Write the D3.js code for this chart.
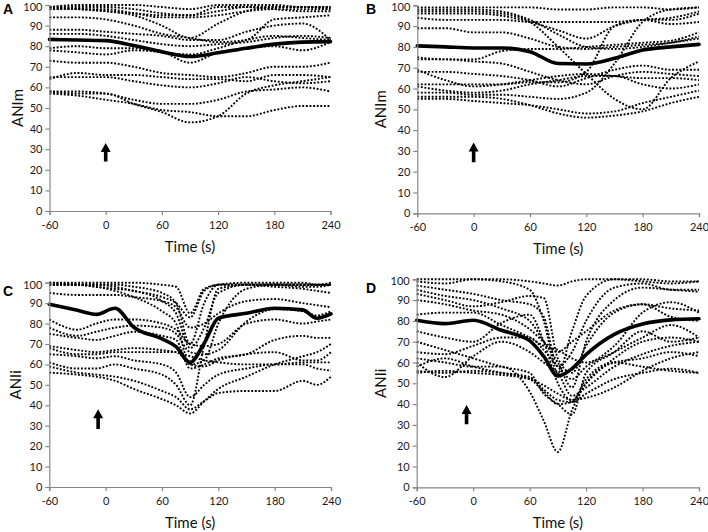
<!DOCTYPE html>
<html><head><meta charset="utf-8">
<script src="https://cdn.jsdelivr.net/npm/d3@7"></script>
<style>body{margin:0;background:#fff}svg{display:block}</style>
</head><body><svg id="chart" width="708" height="532"></svg>
<script>
// ---------- DATA ----------
const xTickValues = [-60, 0, 60, 120, 180, 240];
const yTickValues = [0, 10, 20, 30, 40, 50, 60, 70, 80, 90, 100];
const panelLetters = ["A", "B", "C", "D"];
const yAxisLabels = ["ANIm", "ANIm", "ANIi", "ANIi"];
const xAxisTitle = "Time (s)";

const timesA = [-60, -30, 0, 30, 60, 90, 120, 150, 180, 210, 240];
const meanA = [83.3, 83, 82.7, 80.3, 77.3, 75, 76.8, 79, 81, 82, 82.2];
const linesA = [
  [99, 99, 99, 98, 96, 95, 97, 99, 99, 99, 99],
  [98, 98, 98, 96, 94, 94, 95, 97, 98, 98, 98],
  [99, 98, 97, 96, 95, 95, 99, 99, 98, 97, 97],
  [98, 98, 97, 95, 90, 84, 91, 97, 99, 99, 98],
  [99, 100, 100, 100, 99, 98, 100, 100, 100, 99, 99],
  [94, 94, 93, 90, 86, 84, 82, 83, 93, 94, 95],
  [88, 88, 87, 86, 85, 83, 83, 87, 90, 91, 83],
  [86, 86, 85, 83, 81, 80, 81, 82, 84, 85, 84],
  [79, 80, 79, 79, 77, 76, 79, 83, 85, 84, 83],
  [78, 77, 76, 78, 77, 72, 77, 79, 80, 78, 82],
  [73, 72, 72, 70, 67, 66, 65, 67, 70, 70, 72],
  [64, 67, 66, 66, 65, 64, 64, 63, 66, 66, 65],
  [65, 65, 65, 63, 61, 60, 62, 65, 63, 62, 63],
  [58, 58, 57, 54, 52, 52, 54, 58, 59, 60, 58],
  [57, 56, 54, 52, 49, 48, 46, 46, 49, 51, 51],
  [58, 57, 57, 52, 48, 43, 46, 57, 61, 63, 65]
];

const timesB = [-60, -30, 0, 30, 60, 90, 120, 150, 180, 210, 240];
const meanB = [80.5, 80, 79.5, 79.5, 77.7, 72, 71.8, 74.5, 78.5, 80, 81.2];
const linesB = [
  [99, 99, 99, 99, 99, 98, 98, 99, 99, 98, 99],
  [98, 98, 98, 97, 93, 86, 80, 79, 80, 82, 84],
  [97, 97, 97, 96, 92, 80, 67, 55, 50, 65, 73],
  [96, 96, 96, 95, 92, 88, 84, 90, 93, 94, 97],
  [94, 93, 93, 93, 92, 92, 92, 92, 93, 91, 92],
  [89, 89, 87, 87, 84, 80, 79, 80, 81, 82, 85],
  [75, 74, 74, 78, 79, 79, 80, 81, 82, 83, 87],
  [74, 74, 73, 72, 68, 64, 62, 66, 68, 67, 66],
  [68, 68, 67, 66, 64, 61, 65, 69, 71, 69, 69],
  [69, 64, 61, 62, 64, 66, 67, 66, 65, 65, 64],
  [61, 59, 58, 59, 62, 64, 66, 66, 62, 60, 62],
  [56, 56, 56, 55, 52, 48, 46, 47, 49, 53, 56],
  [55, 55, 54, 53, 52, 50, 48, 49, 53, 56, 59],
  [58, 58, 57, 57, 56, 55, 58, 72, 92, 98, 99],
  [62, 62, 62, 62, 63, 63, 68, 90, 93, 93, 96]
];

const timesC = [-60, -30, -10, 10, 30, 60, 75, 90, 105, 120, 150, 180, 210, 225, 240];
const meanC = [89.4, 86.5, 84.5, 87.5, 78.2, 72.5, 68.7, 61, 70.4, 82.6, 85, 87.5, 86.7, 82.6, 84.7];
const linesC = [
  [100, 100, 100, 100, 100, 99, 98, 85, 97, 99, 100, 100, 100, 99, 99],
  [99, 99, 99, 99, 98, 95, 90, 70, 90, 99, 99, 99, 99, 99, 99],
  [99, 99, 98, 97, 96, 91, 85, 68, 78, 95, 99, 99, 98, 98, 99],
  [100, 99, 98, 96, 93, 86, 80, 60, 62, 80, 97, 99, 99, 99, 100],
  [99, 99, 99, 98, 96, 93, 90, 83, 96, 99, 99, 98, 97, 96, 95],
  [95, 94, 94, 94, 93, 91, 88, 78, 80, 85, 91, 92, 90, 89, 88],
  [82, 77, 80, 82, 82, 80, 77, 70, 69, 70, 80, 82, 80, 81, 82],
  [78, 74, 76, 78, 79, 78, 75, 66, 65, 67, 81, 87, 86, 84, 86],
  [75, 73, 72, 74, 76, 74, 72, 58, 60, 63, 65, 72, 74, 73, 73],
  [69, 67, 66, 67, 68, 67, 66, 64, 62, 61, 60, 60, 61, 61, 61],
  [68, 65, 65, 66, 66, 66, 66, 60, 59, 62, 65, 66, 62, 62, 66],
  [65, 64, 63, 64, 62, 60, 56, 44, 50, 55, 58, 60, 60, 58, 57],
  [61, 58, 58, 60, 58, 55, 50, 40, 70, 97, 99, 99, 99, 99, 99],
  [59, 56, 55, 54, 52, 47, 44, 38, 42, 46, 47, 47, 52, 50, 54],
  [56, 55, 54, 52, 48, 43, 40, 36, 42, 48, 54, 60, 64, 66, 70]
];

const timesD = [-60, -30, 0, 30, 60, 75, 90, 105, 120, 150, 180, 210, 240];
const meanD = [80.3, 78.7, 80.3, 75.5, 70.5, 63, 53.5, 57, 63.8, 73.5, 78.5, 80.5, 81];
const linesD = [
  [100, 100, 100, 100, 99, 98, 97, 99, 100, 100, 99, 98, 99],
  [99, 98, 100, 99, 95, 80, 55, 75, 92, 100, 100, 99, 99],
  [97, 95, 93, 90, 88, 82, 58, 65, 80, 96, 98, 95, 95],
  [95, 92, 90, 86, 80, 70, 60, 48, 70, 90, 96, 95, 94],
  [93, 90, 87, 89, 92, 91, 62, 55, 68, 84, 88, 82, 80],
  [90, 88, 85, 83, 76, 70, 65, 70, 75, 85, 88, 86, 85],
  [83, 84, 84, 78, 72, 68, 66, 62, 60, 68, 84, 89, 84],
  [75, 72, 70, 79, 83, 70, 50, 42, 50, 62, 70, 72, 70],
  [70, 66, 62, 58, 55, 45, 40, 35, 55, 65, 75, 70, 72],
  [62, 60, 58, 58, 46, 32, 17, 37, 50, 60, 62, 65, 63],
  [58, 62, 58, 55, 52, 46, 40, 41, 52, 60, 58, 56, 55],
  [56, 55, 56, 55, 53, 47, 42, 41, 45, 52, 55, 57, 55],
  [55, 56, 55, 54, 52, 49, 45, 42, 43, 48, 56, 62, 65],
  [60, 53, 63, 70, 65, 60, 55, 44, 48, 58, 64, 68, 70],
  [65, 64, 68, 72, 72, 66, 58, 52, 58, 65, 72, 78, 72]
];

// arrow (stimulus marker): time, from value, to value
const arrowTime = [0, 0, -8, -7];
const arrowFrom = [24, 24.5, 28.4, 30.3];
const arrowTo = [33, 34, 38, 39.6];

// ---------- LAYOUT ----------
const layout = [
  {x0: 49.5, x1: 330.5, yBottom: 211, yTop: 5, letterX: 3, letterY: 14, yLabX: 18},
  {x0: 417.3, x1: 699, yBottom: 213.3, yTop: 5.3, letterX: 366, letterY: 14, yLabX: 381},
  {x0: 49.3, x1: 331, yBottom: 487, yTop: 282.7, letterX: 3, letterY: 296, yLabX: 16},
  {x0: 416.7, x1: 699, yBottom: 487.3, yTop: 279.3, letterX: 366, letterY: 293, yLabX: 381}
];
const panelTimes = [timesA, timesB, timesC, timesD];
const panelMeans = [meanA, meanB, meanC, meanD];
const panelLines = [linesA, linesB, linesC, linesD];

const svg = d3.select("#chart");
svg.append("rect").attr("width", 708).attr("height", 532).attr("fill", "#fff");

const axisColor = "#878787";
const font = "Lato, 'Open Sans', sans-serif";

layout.forEach((L, i) => {
  const g = svg.append("g");
  const x = d3.scaleLinear().domain([-60, 240]).range([L.x0, L.x1]);
  const y = d3.scaleLinear().domain([0, 100]).range([L.yBottom, L.yTop]);
  const times = panelTimes[i];

  const line = d3.line()
    .x((d, k) => x(times[k]))
    .y(d => y(d))
    .curve(d3.curveMonotoneX);

  // individual dotted lines
  g.append("g").selectAll("path").data(panelLines[i]).join("path")
    .attr("d", line)
    .attr("fill", "none")
    .attr("stroke", "#000")
    .attr("stroke-width", 1.9)
    .attr("stroke-dasharray", "1.9,1.7");

  // mean line
  g.append("path").datum(panelMeans[i])
    .attr("d", line)
    .attr("fill", "none")
    .attr("stroke", "#000")
    .attr("stroke-width", 3.6)
    .attr("stroke-linejoin", "round")
    .attr("stroke-linecap", "round");

  // axes
  const ya = g.append("g").attr("transform", `translate(${L.x0},0)`)
    .call(d3.axisLeft(y).tickValues(yTickValues).tickSize(4).tickPadding(3).tickFormat(d => String(d)));
  const xa = g.append("g").attr("transform", `translate(0,${L.yBottom})`)
    .call(d3.axisBottom(x).tickValues(xTickValues).tickSize(4).tickPadding(6).tickFormat(d => String(d)));
  [ya, xa].forEach(a => {
    a.select(".domain").attr("stroke", axisColor).attr("stroke-width", 1.2);
    a.selectAll(".tick line").attr("stroke", axisColor).attr("stroke-width", 1.2);
    a.selectAll(".tick text").attr("fill", "#1a1a1a").style("font-family", font).style("font-size", "11px");
  });
  // keep the top label inside the picture
  ya.selectAll(".tick text").filter(d => d === 100).attr("dy", "0.5em");

  // x axis title
  g.append("text").attr("x", (L.x0 + L.x1) / 2).attr("y", L.yBottom + 41)
    .attr("text-anchor", "middle").style("font-family", font).style("font-size", "15px")
    .attr("fill", "#111").text(xAxisTitle);

  // y axis label
  const cy = (L.yTop + L.yBottom) / 2;
  g.append("text").attr("transform", `translate(${L.yLabX + 5},${cy}) rotate(-90)`)
    .attr("text-anchor", "middle").style("font-family", font).style("font-size", "15px")
    .attr("fill", "#111").text(yAxisLabels[i]);

  // panel letter
  g.append("text").attr("x", L.letterX).attr("y", L.letterY)
    .style("font-family", "'Liberation Sans', Arial, sans-serif").style("font-size", "14px")
    .style("font-weight", "bold").attr("fill", "#000").text(panelLetters[i]);

  // arrow
  const ax = x(arrowTime[i]), yb = y(arrowFrom[i]), yt = y(arrowTo[i]);
  const hh = 9, hw = 5, sw = 1.8;
  g.append("path")
    .attr("d", `M${ax},${yt} L${ax + hw},${yt + hh} L${ax + sw},${yt + hh} L${ax + sw},${yb} L${ax - sw},${yb} L${ax - sw},${yt + hh} L${ax - hw},${yt + hh} Z`)
    .attr("fill", "#000");
});
</script>
</body></html>
